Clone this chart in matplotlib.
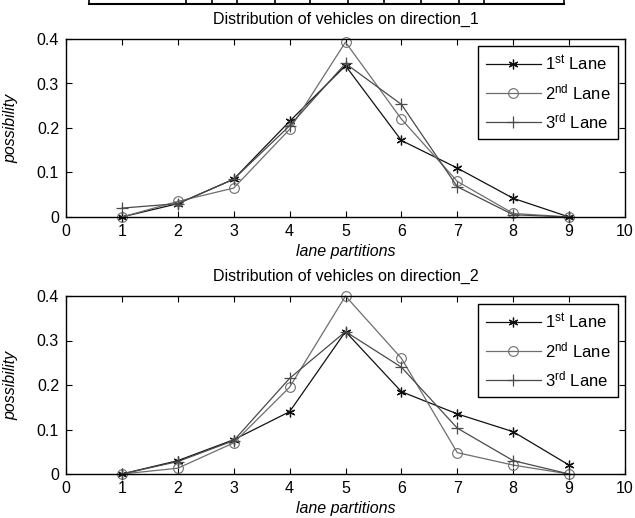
import matplotlib
matplotlib.use("Agg")
import matplotlib.pyplot as plt
from matplotlib.lines import Line2D

plt.rcParams['font.family'] = ['Liberation Sans', 'DejaVu Sans']
plt.rcParams['mathtext.fontset'] = 'custom'
plt.rcParams['mathtext.rm'] = 'Liberation Sans'
plt.rcParams['mathtext.it'] = 'Liberation Sans:italic'

partitions = [1, 2, 3, 4, 5, 6, 7, 8, 9]
lane_labels = [r'1$^{\mathrm{st}}$ Lane', r'2$^{\mathrm{nd}}$ Lane', r'3$^{\mathrm{rd}}$ Lane']

dir1_lane1 = [0.0, 0.030, 0.085, 0.215, 0.340, 0.172, 0.110, 0.042, 0.0]
dir1_lane2 = [0.0, 0.035, 0.065, 0.197, 0.393, 0.220, 0.080, 0.008, 0.0]
dir1_lane3 = [0.020, 0.030, 0.085, 0.205, 0.345, 0.253, 0.068, 0.005, 0.0]

dir2_lane1 = [0.0, 0.030, 0.077, 0.140, 0.320, 0.185, 0.135, 0.095, 0.020]
dir2_lane2 = [0.0, 0.013, 0.070, 0.195, 0.400, 0.260, 0.048, 0.020, 0.0]
dir2_lane3 = [0.0, 0.028, 0.075, 0.215, 0.320, 0.240, 0.103, 0.030, 0.0]

titles = ['Distribution of vehicles on direction_1', 'Distribution of vehicles on direction_2']
xticks = list(range(0, 11))
yticks = [0, 0.1, 0.2, 0.3, 0.4]
ytick_labels = ['0', '0.1', '0.2', '0.3', '0.4']

styles = [
    dict(color='#111111', marker=(6, 2, 0), markersize=7, mew=0.9, lw=0.9),
    dict(color='#6e6e6e', marker='o', markersize=7, markerfacecolor='none', mew=0.8, lw=0.9),
    dict(color='#4a4a4a', marker='+', markersize=8, mew=0.9, lw=0.9),
]

fig = plt.figure(figsize=(6.35, 5.18), dpi=100)
W, H = 635, 518
rects = [(66, 39, 625, 217), (66, 296, 625, 474)]
data = [[dir1_lane1, dir1_lane2, dir1_lane3], [dir2_lane1, dir2_lane2, dir2_lane3]]
legend_boxes = [(478, 46, 618, 141), (478, 304, 618, 398)]

for i in range(2):
    x0, y0, x1, y1 = rects[i]
    ax = fig.add_axes([x0 / W, 1 - y1 / H, (x1 - x0) / W, (y1 - y0) / H])
    for series, lab, st in zip(data[i], lane_labels, styles):
        ax.plot(partitions, series, label=lab, clip_on=False, **st)
    ax.set_xlim(0, 10)
    ax.set_ylim(0, 0.4)
    ax.set_xticks(xticks)
    ax.set_yticks(yticks)
    ax.set_yticklabels(ytick_labels)
    ax.tick_params(direction='in', top=True, right=True, labelsize=11.5, length=4, width=0.8, pad=5)
    for s in ax.spines.values():
        s.set_linewidth(1.0)
    ax.set_title(titles[i], fontsize=11.5, pad=11)
    ax.set_xlabel('lane partitions', fontsize=11.5, style='italic', labelpad=4)
    ax.set_ylabel('possibility', fontsize=11.5, style='italic', labelpad=13)
    lx0, ly0, lx1, ly1 = legend_boxes[i]
    leg = ax.legend(loc='upper right', bbox_to_anchor=(lx1 / W, 1 - ly0 / H),
                    bbox_transform=fig.transFigure, fontsize=12, frameon=True,
                    fancybox=False, edgecolor='black', framealpha=1,
                    handlelength=3.3, borderpad=0.45, labelspacing=0.55,
                    handletextpad=0.25, borderaxespad=0)
    leg.get_frame().set_linewidth(1.0)

# cut-off table at the top of the page
xs = [89, 186, 212, 237, 275, 310, 348, 384, 421, 459, 484, 564]
ybot = 1 - 4 / H
fig.add_artist(Line2D([xs[0] / W, xs[-1] / W], [ybot, ybot], transform=fig.transFigure, color='black', lw=1.5))
for x in xs:
    fig.add_artist(Line2D([x / W, x / W], [ybot, 1.0], transform=fig.transFigure, color='black', lw=1.2))

fig.savefig('out.png', dpi=100)
